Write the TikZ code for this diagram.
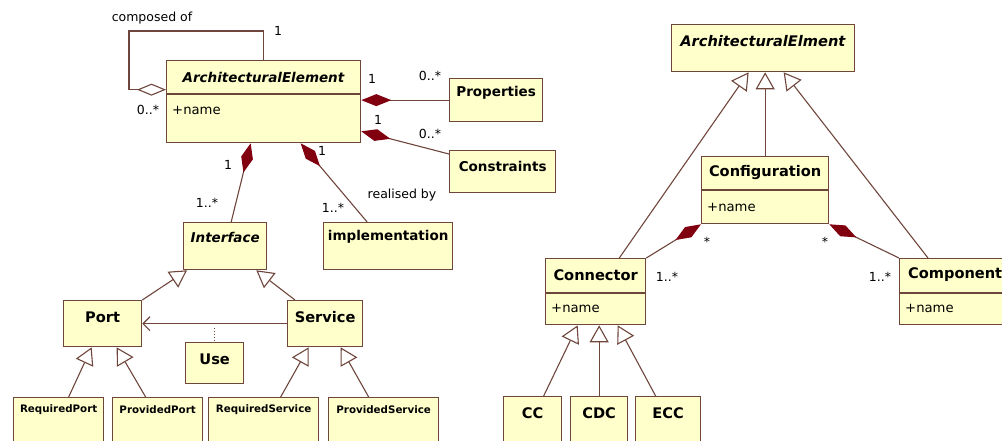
\documentclass[tikz,border=0pt]{standalone}
\usepackage{fontspec}
\setmainfont{DejaVu Sans}
\usetikzlibrary{arrows.meta,positioning}
\definecolor{umlfill}{RGB}{255,255,204}
\definecolor{umlline}{RGB}{110,70,60}
\definecolor{umldia}{RGB}{128,0,16}

\begin{document}
\begin{tikzpicture}[x=1pt,y=-1pt,node distance=4pt]

  \tikzstyle{umlclass}=[rectangle,draw=umlline,fill=umlfill,line width=1.3pt,anchor=north west,inner sep=0pt]
  \tikzstyle{cname}=[inner sep=0pt,font=\bfseries\fontsize{13.5}{15}\selectfont]
  \tikzstyle{cbig}=[inner sep=0pt,font=\bfseries\fontsize{14.6}{16}\selectfont]
  \tikzstyle{csmall}=[inner sep=0pt,font=\bfseries\fontsize{10.3}{12}\selectfont]
  \tikzstyle{attr}=[inner sep=0pt,anchor=west,font=\fontsize{13.2}{15}\selectfont]
  \tikzstyle{mult}=[inner sep=0pt,font=\fontsize{12.5}{14}\selectfont]
  \tikzstyle{link}=[draw=umlline,line width=1.1pt]
  \tikzstyle{gen}=[link,-{Triangle[open,length=17pt,width=19pt,fill=white]}]
  \tikzstyle{compos}=[link,-{Diamond[length=30pt,width=12pt,color=umldia]}]
  \tikzstyle{aggr}=[link,-{Diamond[open,length=29pt,width=12pt,fill=white]}]
  \tikzstyle{dep}=[link,-{Straight Barb[length=7pt,width=14pt]}]

  \useasboundingbox (0,0) rectangle (1002,440);

  % left diagram
  \node [umlclass,minimum width=194pt,minimum height=82pt] (ae)    at (166,60)  {};
  \node [umlclass,minimum width=93pt,minimum height=43pt]  (prop)  at (449,78)  {};
  \node [umlclass,minimum width=106pt,minimum height=42pt] (cons)  at (449,150) {};
  \node [umlclass,minimum width=83pt,minimum height=47pt]  (iface) at (183,222) {};
  \node [umlclass,minimum width=129pt,minimum height=47pt] (impl)  at (323,222) {};
  \node [umlclass,minimum width=78pt,minimum height=46pt]  (port)  at (63,300)  {};
  \node [umlclass,minimum width=75pt,minimum height=46pt]  (serv)  at (287,300) {};
  \node [umlclass,minimum width=58pt,minimum height=41pt]  (use)   at (185,342) {};
  \node [umlclass,minimum width=90pt,minimum height=55pt]  (rport) at (13,397)  {};
  \node [umlclass,minimum width=90pt,minimum height=55pt]  (pport) at (112,397) {};
  \node [umlclass,minimum width=110pt,minimum height=55pt] (rserv) at (208,397) {};
  \node [umlclass,minimum width=110pt,minimum height=55pt] (pserv) at (328,397) {};

  \node [cname] (ae-t)    at ([yshift=-17pt]ae.north)    {\textit{ArchitecturalElement}};
  \node [cname] (prop-t)  at ([yshift=-15pt]prop.north)  {Properties};
  \node [cname] (cons-t)  at ([yshift=-16pt]cons.north)  {Constraints};
  \node [cname] (iface-t) at ([yshift=-15pt]iface.north) {\textit{Interface}};
  \node [cname] (impl-t)  at ([yshift=-15pt]impl.north)  {implementation};
  \node [cbig]  (port-t)  at ([yshift=-17pt]port.north)  {Port};
  \node [cbig]  (serv-t)  at ([yshift=-17pt]serv.north)  {Service};
  \node [cbig]  (use-t)   at ([yshift=-17pt]use.north)   {Use};
  \node [csmall] (rport-t) at ([yshift=-13pt]rport.north) {RequiredPort};
  \node [csmall] (pport-t) at ([yshift=-13pt]pport.north) {ProvidedPort};
  \node [csmall] (rserv-t) at ([yshift=-13pt]rserv.north) {RequiredService};
  \node [csmall] (pserv-t) at ([yshift=-13pt]pserv.north) {ProvidedService};

  \coordinate (ae-d) at (166,94);
  \draw [link,line width=1.3pt] (ae-d) -- (ae.east |- ae-d);
  \node [attr] (ae-a) at (172,110) {+name};

  \coordinate (loop) at (129,31);
  \coordinate (aein) at ([yshift=12pt]ae.west);
  \draw [aggr] (ae.north) |- (loop) |- (aein);
  \node [mult] (loop-l) at (152,18)  {composed of};
  \node [mult] (loop-1) at (278,31)  {1};
  \node [mult] (loop-n) at (148,110) {0..*};

  \draw [compos] (prop) -- (ae.east |- prop);
  \node [mult] (prop-1) at (372,79) {1};
  \node [mult] (prop-n) at (430,76) {0..*};

  \draw [compos] ([yshift=-4pt]cons.north west) -- ([yshift=12pt]ae.south east);
  \node [mult] (cons-1) at (378,120) {1};
  \node [mult] (cons-n) at (430,134) {0..*};

  \draw [compos] ([xshift=6pt]iface.north) -- ([xshift=-13pt]ae.south);
  \node [mult] (iface-1) at (228,165) {1};
  \node [mult] (iface-n) at (207,203) {1..*};

  \draw [compos] ([xshift=-21pt]impl.north) -- ([xshift=37pt]ae.south);
  \node [mult] (impl-1) at (322,151) {1};
  \node [mult] (impl-n) at (333,208) {1..*};
  \node [mult] (impl-l) at (402,195) {realised by};

  \draw [gen] (port.north east) -- ([xshift=4pt]iface.south west);
  \draw [gen] ([xshift=8pt]serv.north west) -- ([xshift=-11pt]iface.south east);

  \draw [dep] (serv.west) -- (port.east);
  \coordinate (usep) at ([yshift=-4pt]use.north |- port.east);
  \draw [link,dotted] (usep) -- (use.north);

  \draw [gen] ([xshift=10pt]rport.north) -- ([xshift=-11pt]port.south);
  \draw [gen] ([xshift=-12pt]pport.north) -- ([xshift=14pt]port.south);
  \draw [gen] ([xshift=17pt]rserv.north) -- ([xshift=-16.5pt]serv.south);
  \draw [gen] ([xshift=-15pt]pserv.north) -- ([xshift=15.5pt]serv.south);

  % right diagram
  \node [umlclass,minimum width=183pt,minimum height=47pt] (ae2)  at (671,24)  {};
  \node [umlclass,minimum width=127pt,minimum height=67pt] (conf) at (701,156) {};
  \node [umlclass,minimum width=100pt,minimum height=66pt] (conn) at (545,258) {};
  \node [umlclass,minimum width=111pt,minimum height=66pt] (comp) at (899,258) {};
  \node [umlclass,minimum width=58pt,minimum height=55pt]  (cc)   at (503,396) {};
  \node [umlclass,minimum width=57pt,minimum height=55pt]  (cdc)  at (570,396) {};
  \node [umlclass,minimum width=65pt,minimum height=55pt]  (ecc)  at (635,396) {};

  \node [cbig] (ae2-t)  at ([yshift=-17pt]ae2.north)  {\textit{ArchitecturalElment}};
  \node [cbig] (conf-t) at ([yshift=-17pt]conf.north) {Configuration};
  \node [cbig] (conn-t) at ([yshift=-17pt]conn.north) {Connector};
  \node [cbig] (comp-t) at ([yshift=-17pt]comp.north) {Component};
  \node [cbig] (cc-t)   at ([yshift=-17pt]cc.north)   {CC};
  \node [cbig] (cdc-t)  at ([yshift=-17pt]cdc.north)  {CDC};
  \node [cbig] (ecc-t)  at ([yshift=-17pt]ecc.north)  {ECC};

  \coordinate (conf-d) at (701,190);
  \coordinate (conn-d) at (545,293);
  \coordinate (comp-d) at (899,293);
  \draw [link,line width=1.3pt] (conf-d) -- (conf.east |- conf-d);
  \draw [link,line width=1.3pt] (conn-d) -- (conn.east |- conn-d);
  \draw [link,line width=1.3pt] (comp-d) -- (comp.east |- comp-d);
  \node [attr] (conf-a) at (707,207) {+name};
  \node [attr] (conn-a) at (551,308) {+name};
  \node [attr] (comp-a) at (905,308) {+name};

  \draw [gen] ([xshift=-27pt]conn.north east) -- ([xshift=-14.5pt]ae2.south);
  \draw [gen] (conf.north) -- (conf.north |- ae2.south);
  \draw [gen] ([xshift=29pt]comp.north west) -- ([xshift=20.5pt]ae2.south);

  \draw [compos] (conn.north east) -- (conf.south west);
  \node [mult] (conn-s) at (707,242) {*};
  \node [mult] (conn-n) at (667,277) {1..*};
  \draw [compos] (comp.north west) -- (conf.south east);
  \node [mult] (comp-s) at (825,242) {*};
  \node [mult] (comp-n) at (880,277) {1..*};

  \draw [gen] ([xshift=11pt]cc.north) -- ([xshift=-18pt]conn.south);
  \draw [gen] (cdc.north) -- (cdc.north |- conn.south);
  \draw [gen] ([xshift=-12.5pt]ecc.north) -- ([xshift=22pt]conn.south);

\end{tikzpicture}
\end{document}
